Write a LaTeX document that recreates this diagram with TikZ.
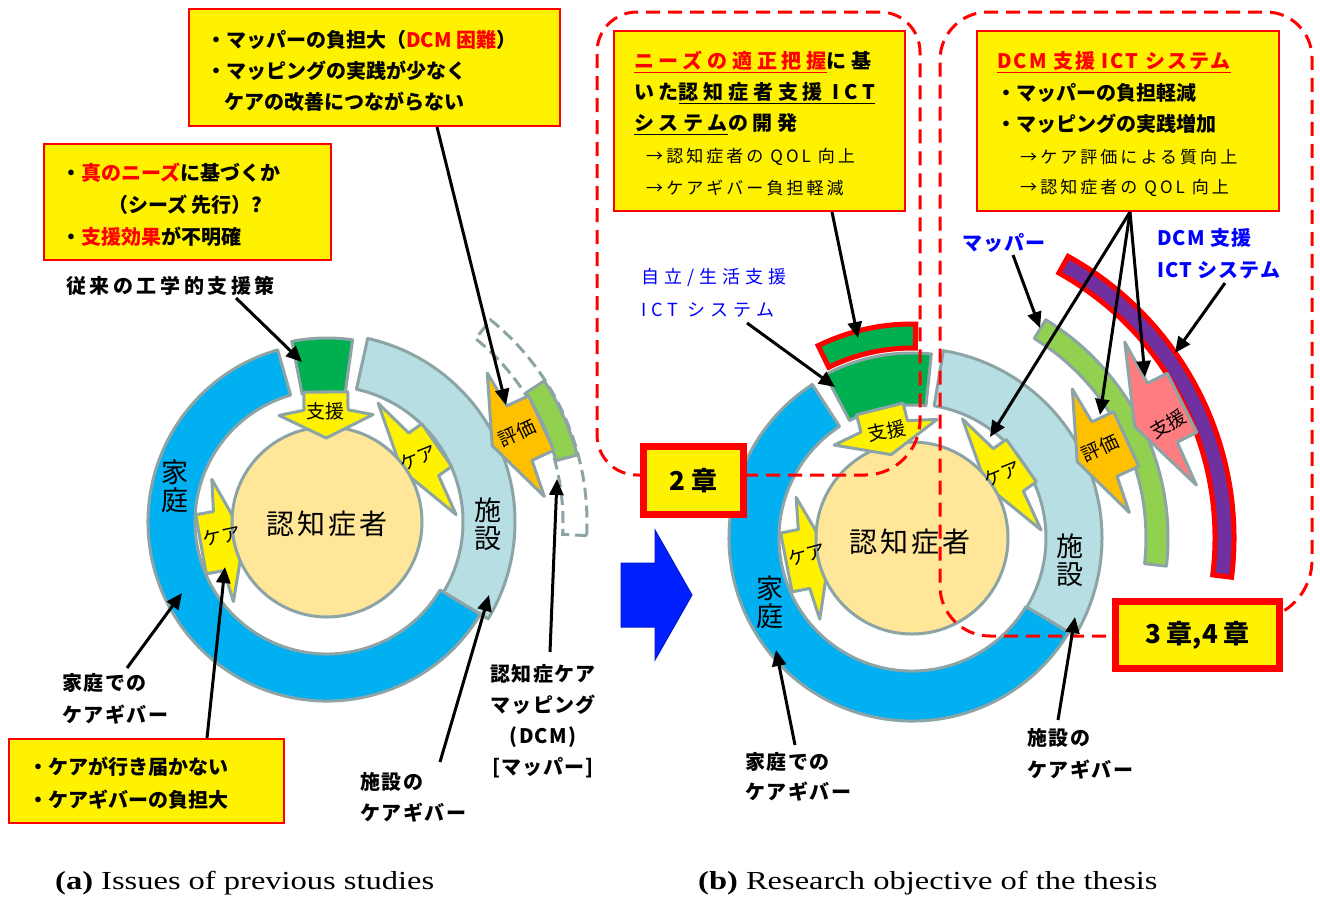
\documentclass[tikz,border=0pt]{standalone}
\usepackage{fontspec}
\setmainfont{Noto Sans CJK JP}
\newfontfamily\capfont{Liberation Serif}[FakeStretch=1.25]
\usetikzlibrary{calc,arrows.meta}
\definecolor{ringblue}{RGB}{0,176,240}
\definecolor{ltblue}{RGB}{183,222,226}
\definecolor{bgrey}{RGB}{141,164,167}
\definecolor{dgreen}{RGB}{0,176,80}
\definecolor{lgreen}{RGB}{146,208,80}
\definecolor{orng}{RGB}{255,192,0}
\definecolor{pinkc}{RGB}{255,124,128}
\definecolor{purp}{RGB}{112,48,160}
\definecolor{cream}{RGB}{255,230,153}
\definecolor{txtblue}{RGB}{0,0,255}
\definecolor{bigblue}{RGB}{0,32,255}
\newcommand{\ringseg}[6]{%
  \filldraw[#6] ($(#1)+({-(#4)}:#3)$) arc[start angle={-(#4)}, end angle={-(#5)}, radius=#3]
    -- ($(#1)+({-(#5)}:#2)$) arc[start angle={-(#5)}, end angle={-(#4)}, radius=#2] -- cycle;}
\newcommand{\callout}[9]{%
  \begin{scope}[shift={($(#1)+({-(#2)}:#3)$)}, rotate={#2+180}]
    \filldraw[ringline, fill=#9] (0,-#4) -- (#5,-#4) -- (#6,-#7) -- (#8,0) -- (#6,#7) -- (#5,#4) -- (0,#4) -- cycle;
  \end{scope}}
\begin{document}
\begin{tikzpicture}[x=1pt,y=-1pt,
  ringline/.style={draw=bgrey, line width=3pt, line join=round},
  greydash/.style={draw=bgrey, line width=3pt, dash pattern=on 12pt off 6pt},
  reddash/.style={draw=red, line width=3pt, dash pattern=on 14pt off 8pt},
  redrim/.style={draw=red, line width=5pt},
  labarrow/.style={line width=3pt, -{Triangle[length=16pt,width=14pt]}},
  ybox/.style={draw=red, fill=yellow, line width=2pt, inner sep=0pt},
  chbox/.style={draw=red, fill=yellow, line width=7pt, inner sep=0pt, font=\fontsize{26}{30}\selectfont\bfseries},
  bt/.style={inner sep=0pt, anchor=west, font=\fontsize{20}{24}\selectfont\bfseries},
  btsp/.style={inner sep=0pt, anchor=west, font=\fontsize{20}{24}\selectfont\bfseries\addfontfeature{LetterSpace=24}},
  rt/.style={inner sep=0pt, anchor=west, font=\fontsize{17}{20}\selectfont\addfontfeature{LetterSpace=18}},
  lab/.style={inner sep=0pt, anchor=west, font=\fontsize{20}{24}\selectfont\bfseries\addfontfeature{LetterSpace=8}},
  arrtxt/.style={inner sep=0pt, font=\fontsize{19}{22}\selectfont},
  ringtxt/.style={inner sep=0pt, font=\fontsize{27}{30}\selectfont},
  pattxt/.style={inner sep=0pt, font=\fontsize{28}{32}\selectfont\addfontfeature{LetterSpace=10}},
  bluelab/.style={inner sep=0pt, anchor=west, text=txtblue, font=\fontsize{18}{22}\selectfont\addfontfeature{LetterSpace=28}},
  bluebold/.style={inner sep=0pt, anchor=west, text=txtblue, font=\fontsize{20}{24}\selectfont\bfseries\addfontfeature{LetterSpace=5}},
  captxt/.style={inner sep=0pt, anchor=west, font=\capfont\fontsize{26}{30}\selectfont}
]
\useasboundingbox (0,0) rectangle (1320,898);
\fill[white] (0,0) rectangle (1320,898);
\coordinate (CA) at (327,522);
\coordinate (CB) at (912,538);

% ---------------- (a) ----------------
\ringseg{CA}{132}{179}{106}{329}{ringline, fill=ringblue}
\ringseg{CA}{136}{188}{-31}{77.5}{ringline, fill=ltblue}
\ringseg{CA}{130}{184}{82}{101}{ringline, fill=dgreen}
\ringseg{CA}{236}{260}{-3}{51}{greydash, fill=white}
\ringseg{CA}{237}{259}{15}{33}{ringline, fill=lgreen}
\callout{CA}{190}{128}{30}{18}{22}{62}{44}{yellow}
\callout{CA}{35}{134}{26}{16}{24}{68}{43}{yellow}
\callout{CA}{24.8}{236}{30}{24}{28}{68}{54}{orng}
\filldraw[ringline, fill=cream] (CA) circle[radius=95];
\callout{CA}{90.5}{130}{22}{18}{23}{47}{46}{yellow}
\node[arrtxt] (sienA) at (325,411) {支援};
\node[arrtxt, rotate=22] (careA1) at (418,458) {ケア};
\node[arrtxt, rotate=12] (careA2) at (222,536) {ケア};
\node[arrtxt, rotate=25] (hyokaA) at (517,433) {評価};
\node[ringtxt, align=center] (kateiA) at (175,486) {家\\[-2pt]庭};
\node[ringtxt, align=center] (shisetsuA) at (488,524) {施\\[-2pt]設};
\node[pattxt] (patA) at (327,524) {認知症者};

% ---------------- (b) ----------------
\ringseg{CB}{133}{183}{123}{329}{ringline, fill=ringblue}
\ringseg{CB}{134}{190}{-31}{80.5}{ringline, fill=ltblue}
\ringseg{CB}{133}{185}{84}{118}{ringline, fill=dgreen}
\ringseg{CB}{190}{214}{89}{116}{redrim, fill=dgreen}
\ringseg{CB}{234}{256}{-6.3}{58.5}{ringline, fill=lgreen}
\ringseg{CB}{303}{322}{-7}{61}{redrim, fill=purp}
\callout{CB}{191}{128}{30}{18}{22}{62}{44}{yellow}
\callout{CB}{35.3}{134}{26}{16}{24}{68}{43}{yellow}
\callout{CB}{24.8}{236}{30}{24}{28}{68}{54}{orng}
\callout{CB}{26.6}{302}{33}{22}{24}{80}{53}{pinkc}
\filldraw[ringline, fill=cream] (CB) circle[radius=96];
\callout{CB}{104}{133}{24}{18}{24}{53}{47}{yellow}
\node[arrtxt, rotate=12] (sienB) at (887,431) {支援};
\node[arrtxt, rotate=22] (careB1) at (1002,474) {ケア};
\node[arrtxt, rotate=15] (careB2) at (807,555) {ケア};
\node[arrtxt, rotate=25] (hyokaB) at (1100,448) {評価};
\node[arrtxt, rotate=30] (sienB2) at (1168,424) {支援};
\node[ringtxt, align=center] (kateiB) at (770,602) {家\\[-2pt]庭};
\node[ringtxt, align=center] (shisetsuB) at (1070,560) {施\\[-2pt]設};
\node[pattxt] (patB) at (910,542) {認知症者};

% red dashed frames
\draw[reddash] (700,475) -- (865,475) arc[start angle=90, end angle=0, radius=55]
  -- (920,52) arc[start angle=0, end angle=-90, radius=40]
  -- (637,12) arc[start angle=-90, end angle=-180, radius=40]
  -- (597,435) arc[start angle=180, end angle=90, radius=40] -- (700,475);
\draw[reddash] (1150,636) -- (990,636) arc[start angle=90, end angle=180, radius=50]
  -- (940,60) arc[start angle=180, end angle=270, radius=48]
  -- (1266,12) arc[start angle=270, end angle=360, radius=46]
  -- (1312,560) arc[start angle=0, end angle=60, radius=60];

% big blue arrow
\filldraw[draw=bigblue!80!black, line width=1pt, fill=bigblue] (621,563) -- (655,563) -- (655,530) -- (692,595) -- (655,660) -- (655,627) -- (621,627) -- cycle;

% ---------------- boxes (a) ----------------
\node[ybox, minimum width=371, minimum height=117] (boxA1) at (374.5,67.5) {};
\node[bt] (a1l1) at (206,40) {・マッパーの負担大（\textcolor{red}{DCM 困難}）};
\node[bt] (a1l2) at (206,71) {・マッピングの実践が少なく};
\node[bt] (a1l3) at (224,102) {ケアの改善につながらない};
\node[ybox, minimum width=287, minimum height=116] (boxA2) at (187.5,202) {};
\node[bt] (a2l1) at (61,173) {・\textcolor{red}{真のニーズ}に基づくか};
\node[bt] (a2l2) at (108,205) {（シーズ 先行）?};
\node[bt] (a2l3) at (61,237) {・\textcolor{red}{支援効果}が不明確};
\node[ybox, minimum width=275, minimum height=84] (boxA3) at (146.5,781) {};
\node[bt] (a3l1) at (28,767) {・ケアが行き届かない};
\node[bt] (a3l2) at (28,800) {・ケアギバーの負担大};

\node[inner sep=0pt, anchor=west, font=\fontsize{20}{24}\selectfont\bfseries\addfontfeature{LetterSpace=18}] (labJ) at (66,286) {従来の工学的支援策};
\node[lab] (labKA1) at (62,683) {家庭での};
\node[lab] (labKA2) at (62,715) {ケアギバー};
\node[lab] (labSA1) at (360,782) {施設の};
\node[lab] (labSA2) at (360,813) {ケアギバー};
\node[inner sep=0pt, align=center, font=\fontsize{20}{31}\selectfont\bfseries\addfontfeature{LetterSpace=6}] (labDCM) at (543,721) {認知症ケア\\マッピング\\(DCM)\\{[}マッパー{]}};

% ---------------- boxes (b) ----------------
\node[ybox, minimum width=291, minimum height=180] (boxB1) at (759.5,121) {};
\node[btsp] (b1l1) at (634,62) {\textcolor{red}{\underline{ニーズの適正把握}}に基};
\node[btsp] (b1l2) at (634,93) {いた\underline{認知症者支援 ICT}};
\node[btsp] (b1l3) at (634,124) {\underline{システム}の開発};
\node[rt] (b1l4) at (646,157) {→認知症者の QOL 向上};
\node[rt] (b1l5) at (646,188) {→ケアギバー負担軽減};
\node[ybox, minimum width=302, minimum height=180] (boxB2) at (1128,121) {};
\node[inner sep=0pt, anchor=west, font=\fontsize{20}{24}\selectfont\bfseries\addfontfeature{LetterSpace=10}] (b2l1) at (997,62) {\textcolor{red}{\underline{DCM 支援 ICT システム}}};
\node[bt] (b2l2) at (996,93) {・マッパーの負担軽減};
\node[bt] (b2l3) at (996,124) {・マッピングの実践増加};
\node[rt] (b2l4) at (1020,157) {→ケア評価による質向上};
\node[rt] (b2l5) at (1020,188) {→認知症者の QOL 向上};

\node[chbox, minimum width=100, minimum height=68] (ch2) at (693.5,480.5) {2 章};
\node[chbox, minimum width=164, minimum height=67] (ch34) at (1197.5,635) {3 章,4 章};

\node[bluelab] (labIA1) at (641,278) {自立/生活支援};
\node[bluelab] (labIA2) at (641,310) {ICT システム};
\node[bluebold] (labMap) at (962,243) {マッパー};
\node[bluebold] (labDI1) at (1157,238) {DCM 支援};
\node[bluebold] (labDI2) at (1157,270) {ICT システム};
\node[lab] (labKB1) at (745,762) {家庭での};
\node[lab] (labKB2) at (745,792) {ケアギバー};
\node[lab] (labSB1) at (1027,738) {施設の};
\node[lab] (labSB2) at (1027,770) {ケアギバー};

% captions
\node[captxt] (capA) at (55,883) {\textbf{(a)} Issues of previous studies};
\node[captxt] (capB) at (698,883) {\textbf{(b)} Research objective of the thesis};

% ---------------- connectors ----------------
\coordinate (a1s) at (236,298); \coordinate (a1e) at (302,362);
\coordinate (a2s) at (437,127); \coordinate (a2e) at (506,405);
\coordinate (a3s) at (127,668); \coordinate (a3e) at (182,593);
\coordinate (a4s) at (207,738); \coordinate (a4e) at (225,567);
\coordinate (a5s) at (440,762); \coordinate (a5e) at (489,595);
\coordinate (a6s) at (550,652); \coordinate (a6e) at (557,479);
\coordinate (b1s) at (832,212); \coordinate (b1e) at (858,338);
\coordinate (b2s) at (747,323); \coordinate (b2e) at (835,387);
\coordinate (b3s) at (1130,212);
\coordinate (b3e) at (990,437); \coordinate (b4e) at (1100,415); \coordinate (b5e) at (1145,377);
\coordinate (b6s) at (1013,255); \coordinate (b6e) at (1040,328);
\coordinate (b7s) at (1225,283); \coordinate (b7e) at (1175,353);
\coordinate (b8s) at (795,745); \coordinate (b8e) at (776,650);
\coordinate (b9s) at (1058,720); \coordinate (b9e) at (1075,617);
\foreach \s/\e in {a1s/a1e,a2s/a2e,a3s/a3e,a4s/a4e,a5s/a5e,a6s/a6e,b1s/b1e,b2s/b2e,b3s/b3e,b3s/b4e,b3s/b5e,b6s/b6e,b7s/b7e,b8s/b8e,b9s/b9e}
  \draw[labarrow] (\s) -- (\e);
\end{tikzpicture}
\end{document}
